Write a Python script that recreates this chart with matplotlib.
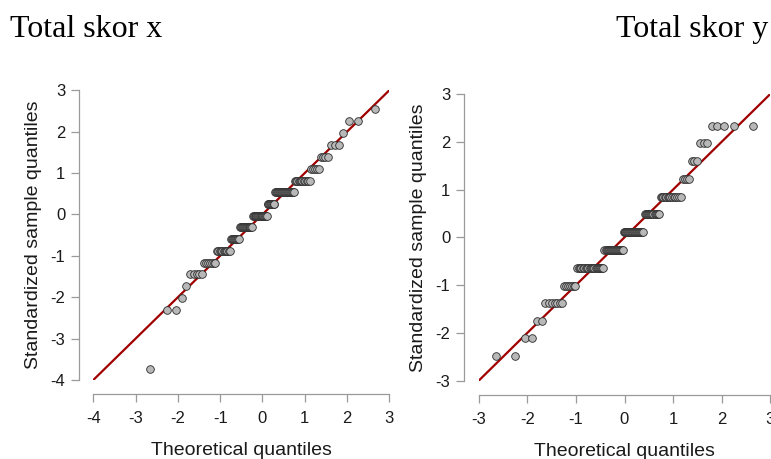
import matplotlib
matplotlib.use("Agg")
import matplotlib.pyplot as plt
import numpy as np
from statistics import NormalDist

# ---- data ----
# Standardized sample values (discrete levels) and how many observations sit at each level
x_levels = [-3.74, -2.31, -2.03, -1.74, -1.45, -1.17, -0.88, -0.60, -0.31, -0.03,
            0.26, 0.54, 0.82, 1.11, 1.39, 1.68, 1.97, 2.25, 2.54]
x_counts = [1, 2, 1, 1, 5, 7, 11, 9, 14, 17, 9, 20, 12, 5, 4, 3, 1, 2, 1]

y_levels = [-2.49, -2.115, -1.745, -1.375, -1.01, -0.636, -0.266, 0.104, 0.481,
            0.851, 1.228, 1.597, 1.967, 2.337]
y_counts = [2, 2, 2, 7, 7, 22, 19, 21, 14, 14, 4, 3, 3, 5]

titles = ["Total skor x", "Total skor y"]
x_ticks_left = [-4, -3, -2, -1, 0, 1, 2, 3]
y_ticks_left = [-4, -3, -2, -1, 0, 1, 2, 3]
x_ticks_right = [-3, -2, -1, 0, 1, 2, 3]
y_ticks_right = [-3, -2, -1, 0, 1, 2, 3]
xlabel = "Theoretical quantiles"
ylabel = "Standardized sample quantiles"


def qq(levels, counts):
    sample = np.repeat(levels, counts)
    n = len(sample)
    nd = NormalDist()
    theo = np.array([nd.inv_cdf((i - 0.5) / n) for i in range(1, n + 1)])
    return theo, np.sort(sample)


W, H = 771, 459
fig = plt.figure(figsize=(W / 100, H / 100), dpi=100)
plt.rcParams['font.family'] = ['Liberation Sans', 'DejaVu Sans']

spine_col = '#9a9a9a'
text_col = '#1a1a1a'


def make_axes(rect, levels, counts, xt, yt, off_left, off_bottom):
    ax = fig.add_axes(rect)
    tx, sy = qq(levels, counts)
    lo, hi = min(xt[0], yt[0]), max(xt[-1], yt[-1])
    ax.plot([lo, hi], [lo, hi], color='#a00000', lw=1.6, zorder=2,
            solid_capstyle='butt')
    ax.plot(tx, sy, 'o', ms=5.5, mfc='#b8b8b8', mec='#2a2a2a', mew=0.6,
            zorder=3, clip_on=False)
    ax.set_xlim(xt[0], xt[-1])
    ax.set_ylim(yt[0], yt[-1])
    ax.set_xticks(xt)
    ax.set_yticks(yt)
    ax.set_xticklabels([str(v) for v in xt])
    ax.set_yticklabels([str(v) for v in yt])
    for s in ['top', 'right']:
        ax.spines[s].set_visible(False)
    ax.spines['left'].set_position(('outward', off_left * 0.72))
    ax.spines['bottom'].set_position(('outward', off_bottom * 0.72))
    ax.spines['left'].set_bounds(yt[0], yt[-1])
    ax.spines['bottom'].set_bounds(xt[0], xt[-1])
    for s in ['left', 'bottom']:
        ax.spines[s].set_color(spine_col)
        ax.spines[s].set_linewidth(0.9)
    ax.tick_params(axis='both', length=6, width=0.9, color=spine_col,
                   labelsize=12, labelcolor=text_col)
    ax.tick_params(axis='x', pad=6)
    ax.tick_params(axis='y', pad=4)
    ax.set_xlabel(xlabel, fontsize=14, color=text_col, labelpad=12)
    ax.set_ylabel(ylabel, fontsize=14, color=text_col, labelpad=6)
    ax.patch.set_visible(False)
    return ax


axL = make_axes([93.3 / W, (H - 380) / H, (389.3 - 93.3) / W, (380 - 90.3) / H],
                x_levels, x_counts, x_ticks_left, y_ticks_left, 14, 14)
axR = make_axes([478.7 / W, (H - 380.7) / H, (770.3 - 478.7) / W, (380.7 - 94) / H],
                y_levels, y_counts, x_ticks_right, y_ticks_right, 14.5, 14.3)

fig.text(10 / W, 1 - 37 / H, titles[0], family=['Liberation Serif', 'DejaVu Serif'],
         fontsize=23, ha='left', va='baseline', color='black')
fig.text(768 / W, 1 - 37 / H, titles[1], family=['Liberation Serif', 'DejaVu Serif'],
         fontsize=23, ha='right', va='baseline', color='black')

fig.savefig('out.png', dpi=100)
